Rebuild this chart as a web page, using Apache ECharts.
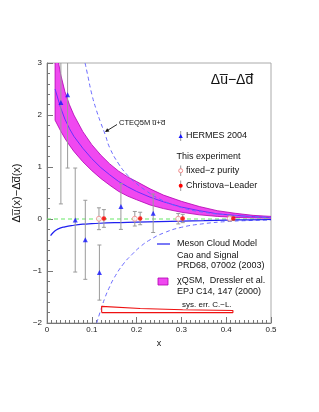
<!DOCTYPE html>
<html><head><meta charset="utf-8">
<script src="https://cdn.jsdelivr.net/npm/echarts@6/dist/echarts.min.js"></script>
<style>html,body{margin:0;padding:0;background:#fff}#c{width:319px;height:412px}</style>
</head><body><div id="c"></div>
<script>
// ---- data ----
const hermesX = [0.031, 0.046, 0.063, 0.0855, 0.117, 0.165, 0.237];
const hermesY = [2.24, 2.39, -0.02, -0.40, -1.03, 0.24, 0.11];
const hermesErr = [1.95, 1.41, 1.0, 0.76, 0.53, 0.44, 0.37];

const fixedzX = [0.116, 0.196, 0.293, 0.408];
const fixedzY = [0.005, 0.005, 0.005, 0.01];
const fixedzErr = [0.21, 0.14, 0.10, 0.05];

const clX = [0.127, 0.208, 0.303, 0.416];
const clY = [0.01, 0.01, 0.01, 0.01];
const clErr = [0.17, 0.12, 0.08, 0.04];

const bandX =      [0.018,0.03,0.04,0.05,0.06,0.08,0.10,0.12,0.14,0.16,0.18,0.20,0.23,0.26,0.30,0.34,0.38,0.42,0.46,0.50];
const bandCenter = [2.50, 2.15,1.92,1.74,1.59,1.36,1.16,0.99,0.85,0.72,0.62,0.53,0.42,0.33,0.23,0.16,0.10,0.07,0.045,0.03];
const bandUpper =  [3.40, 2.80,2.45,2.20,2.00,1.68,1.43,1.23,1.06,0.92,0.81,0.72,0.58,0.46,0.34,0.24,0.16,0.11,0.07,0.05];
const bandLower =  [1.90, 1.70,1.55,1.42,1.30,1.10,0.93,0.78,0.65,0.53,0.44,0.37,0.27,0.20,0.13,0.08,0.05,0.03,0.02,0.015];

const cteqUpX = [0.085,0.09,0.10,0.11,0.12,0.13,0.14,0.16,0.18,0.20,0.22,0.25,0.30,0.35,0.40,0.45,0.50];
const cteqUpY = [3.0, 2.8, 2.4, 2.1, 1.85,1.62,1.37,1.06,0.84,0.68,0.55,0.39,0.22,0.13,0.08,0.05,0.03];
const cteqLoX = [0.111,0.12,0.13,0.14,0.15,0.17,0.19,0.21,0.23,0.26,0.30,0.35,0.40,0.45,0.50];
const cteqLoY = [-2.0,-1.75,-1.5,-1.3,-1.13,-0.87,-0.68,-0.52,-0.40,-0.27,-0.16,-0.09,-0.05,-0.03,-0.02];

const mesonX = [0.008,0.015,0.025,0.04,0.06,0.08,0.10,0.15,0.20,0.25,0.30,0.35,0.40,0.45,0.50];
const mesonY = [-0.32,-0.25,-0.19,-0.15,-0.12,-0.10,-0.09,-0.07,-0.06,-0.05,-0.04,-0.03,-0.02,-0.015,-0.01];

const sysX = [0.122,0.122,0.208,0.303,0.415,0.415,0.122];
const sysY = [-1.80,-1.68,-1.72,-1.745,-1.76,-1.80,-1.80];

const xTicks = [0,0.1,0.2,0.3,0.4,0.5];
const yTicks = [-2,-1,0,1,2,3];

// ---- build ----
const zip = (a,b) => a.map((v,i)=>[v,b[i]]);
const FONT = '"Liberation Sans", Arial, sans-serif';
const fmt = v => { const s = (Math.round(v*10)/10).toString(); return s.replace('-', '\u2212'); };

function errRender(params, api){
  const x = api.value(0), y = api.value(1), e = api.value(2);
  const p1 = api.coord([x, y+e]), p2 = api.coord([x, y-e]);
  const st = {stroke:'#9a9a9a', lineWidth:1};
  return {type:'group', children:[
    {type:'line', shape:{x1:p1[0],y1:p1[1],x2:p2[0],y2:p2[1]}, style:st},
    {type:'line', shape:{x1:p1[0]-2,y1:p1[1],x2:p1[0]+2,y2:p1[1]}, style:st},
    {type:'line', shape:{x1:p2[0]-2,y1:p2[1],x2:p2[0]+2,y2:p2[1]}, style:st}
  ]};
}
const errData = (xs,ys,es) => xs.map((x,i)=>[x,ys[i],es[i]]);

function bandRender(params, api){
  const up = bandX.map((x,i)=>api.coord([x, bandUpper[i]]));
  const lo = bandX.map((x,i)=>api.coord([x, bandLower[i]]));
  const poly = up.concat(lo.slice().reverse());
  return {type:'group', children:[
    {type:'polygon', shape:{points:poly}, style:{fill:'#f048f0', stroke:'#b000b0', lineWidth:0.8}}
  ]};
}

const axisCommon = {
  axisLine:{onZero:false, lineStyle:{color:'#777', width:1}},
  axisTick:{inside:true, length:6, lineStyle:{color:'#777'}},
  splitLine:{show:false},
  axisLabel:{fontSize:8, color:'#222', fontFamily:FONT, formatter:fmt}
};

const chart = echarts.init(document.getElementById('c'), null, {renderer:'canvas'});
const txt = (t,x,y,size,align) => ({type:'text', style:{text:t, x:x, y:y, font:size+'px '+FONT, fill:'#111', textAlign:align||'left', textVerticalAlign:'middle', verticalAlign:'middle'}});

chart.setOption({
  animation:false,
  grid:{left:47, right:48, top:63, bottom:89, show:true, borderColor:'#aaa', borderWidth:1},
  xAxis:Object.assign({}, axisCommon, {type:'value', min:xTicks[0], max:xTicks[xTicks.length-1], interval:0.1,
    minorTick:{show:true, splitNumber:10, length:3, lineStyle:{color:'#777'}},
    axisLabel:Object.assign({}, axisCommon.axisLabel, {margin:3}),
    name:'x', nameLocation:'middle', nameGap:15, nameTextStyle:{fontSize:9, color:'#111', fontFamily:FONT}}),
  yAxis:Object.assign({}, axisCommon, {type:'value', min:yTicks[0], max:yTicks[yTicks.length-1], interval:1,
    minorTick:{show:true, splitNumber:5, length:3, lineStyle:{color:'#777'}},
    axisLabel:Object.assign({}, axisCommon.axisLabel, {margin:5}),
    name:'\u0394u\u0305(x)\u2212\u0394d\u0305(x)', nameLocation:'middle', nameGap:20,
    nameTextStyle:{fontSize:11, color:'#111', fontFamily:FONT}}),
  series:[
    {type:'custom', renderItem:bandRender, data:[[bandX[0], bandCenter[0]]], clip:true, silent:true, z:1},
    {type:'line', data:zip(bandX,bandCenter), symbol:'none', lineStyle:{color:'#6a30ff', width:1}, z:3},
    {type:'line', data:[[0,0],[0.5,0]], symbol:'none', lineStyle:{color:'#66e866', width:1.2, type:[4,3]}, z:3},
    {type:'line', data:zip(cteqUpX,cteqUpY), symbol:'none', smooth:true, lineStyle:{color:'#6a6aff', width:1, type:[4,3]}, z:3},
    {type:'line', data:zip(cteqLoX,cteqLoY), symbol:'none', smooth:true, lineStyle:{color:'#6a6aff', width:1, type:[4,3]}, z:3},
    {type:'line', data:zip(mesonX,mesonY), symbol:'none', smooth:true, lineStyle:{color:'#2020f0', width:1.2}, z:3},
    {type:'line', data:zip(sysX,sysY), symbol:'none', lineStyle:{color:'#ee1111', width:1.1}, z:3},
    {type:'custom', renderItem:errRender, data:errData(hermesX,hermesY,hermesErr), clip:true, z:4},
    {type:'custom', renderItem:errRender, data:errData(fixedzX,fixedzY,fixedzErr), clip:true, z:4},
    {type:'custom', renderItem:errRender, data:errData(clX,clY,clErr), clip:true, z:4},
    {type:'scatter', data:zip(hermesX,hermesY), symbol:'triangle', symbolSize:5, itemStyle:{color:'#1414ff'}, z:5},
    {type:'scatter', data:zip(fixedzX,fixedzY), symbol:'circle', symbolSize:5, itemStyle:{color:'#fff', borderColor:'#f08888', borderWidth:1}, z:5},
    {type:'scatter', data:zip(clX,clY), symbol:'circle', symbolSize:4.5, itemStyle:{color:'#ff0000'}, z:5}
  ],
  graphic:[
    txt('\u0394u\u0305\u2212\u0394d\u0305', 232, 80, 14, 'center'),
    txt('CTEQ5M u\u0305+d\u0305', 119, 123, 7.5),
    {type:'line', shape:{x1:117, y1:124.5, x2:106.5, y2:131}, style:{stroke:'#111', lineWidth:0.9}},
    {type:'polygon', shape:{points:[[105,132],[107.2,128.2],[109.4,131.6]]}, style:{fill:'#111'}},
    {type:'line', shape:{x1:180.7,y1:131,x2:180.7,y2:141}, style:{stroke:'#9a9a9a', lineWidth:1}},
    {type:'polygon', shape:{points:[[180.7,134],[178.6,138],[182.8,138]]}, style:{fill:'#1414ff'}},
    txt('HERMES 2004', 186, 136, 9),
    txt('This experiment', 176.5, 157, 9),
    {type:'line', shape:{x1:180.7,y1:165.5,x2:180.7,y2:176}, style:{stroke:'#9a9a9a', lineWidth:1}},
    {type:'circle', shape:{cx:180.7, cy:170.7, r:2}, style:{fill:'#fff', stroke:'#f08888', lineWidth:1}},
    txt('fixed\u2212z purity', 186, 170.7, 9),
    {type:'line', shape:{x1:180.7,y1:180.5,x2:180.7,y2:191}, style:{stroke:'#9a9a9a', lineWidth:1}},
    {type:'circle', shape:{cx:180.7, cy:185.7, r:2}, style:{fill:'#ff0000'}},
    txt('Christova\u2212Leader', 186, 185.7, 9),
    {type:'line', shape:{x1:157,y1:244,x2:170,y2:244}, style:{stroke:'#2020f0', lineWidth:1.2}},
    txt('Meson Cloud Model', 177, 244, 9),
    txt('Cao and Signal', 177, 255.5, 9),
    txt('PRD68, 07002 (2003)', 177, 266, 9),
    {type:'rect', shape:{x:158, y:278, width:10, height:7}, style:{fill:'#f048f0', stroke:'#b000b0', lineWidth:0.8}},
    txt('\u03c7QSM,  Dressler et al.', 177, 281, 9),
    txt('EPJ C14, 147 (2000)', 177, 291.5, 9),
    txt('sys. err. C.\u2212L.', 182, 304.5, 8)
  ]
});
</script></body></html>
